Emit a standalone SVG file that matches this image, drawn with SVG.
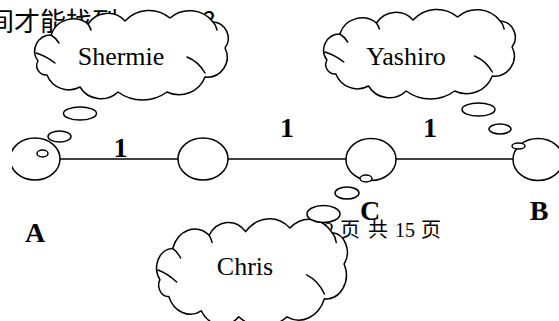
<svg xmlns="http://www.w3.org/2000/svg" xmlns:xlink="http://www.w3.org/1999/xlink" width="559" height="321" viewBox="0 0 559 321">
<style>
.ln{stroke:#000;stroke-width:1.5;fill:none}
.nd{stroke:#000;stroke-width:1.5;fill:#fff}
.cl{stroke:#000;stroke-width:1.5;fill:#fff;stroke-linejoin:round}
.ci{stroke:#000;stroke-width:1.5;fill:none;stroke-linecap:round}
.ct{font-family:"Liberation Serif","Times New Roman",serif;font-size:26px;fill:#000;text-anchor:middle}
.lb{font-family:"Liberation Serif","Times New Roman",serif;font-size:28px;font-weight:bold;fill:#000;text-anchor:middle}
.pg{font-family:"Liberation Serif","Noto Sans CJK SC",serif;font-size:20px;fill:#000}
.tp{font-family:"Noto Sans CJK SC","Liberation Sans",sans-serif;font-size:26px;fill:#000}
</style>
<defs>
<g id="cloud">
<path class="cl" vector-effect="non-scaling-stroke" d="M18,22 A23.6,23.6 0 0 1 55,11 A23.5,23.5 0 0 1 92,8 A32.6,32.6 0 0 1 137,5 A30,30 0 0 1 180,9 A16.3,16.3 0 0 1 192,35 A20,20 0 0 1 172,64 A27.8,27.8 0 0 1 134,79 A41.5,41.5 0 0 1 85,79 A24.6,24.6 0 0 1 47,74 A23.5,23.5 0 0 1 14,62 A9.4,9.4 0 0 1 5,48 A16.2,16.2 0 0 1 18,22 Z"/>
<path class="ci" vector-effect="non-scaling-stroke" d="M3,40 Q13,43 22,50 M154,44 Q166,49 172,60 M18,22 Q23,25 26,30 M55,11 Q57,14 58,17 M180,9 Q183,12 184,17"/>
</g>
<clipPath id="clipA"><rect x="12" y="130" width="60" height="60"/></clipPath>
</defs>
<rect x="0" y="0" width="559" height="321" fill="#fff"/>
<g id="page-text">
<text class="tp" x="-12" y="31">间才能找到</text>
<text class="tp" x="203" y="31" font-family="Liberation Sans,sans-serif">?</text>
<text class="pg" y="237"><tspan x="299">第</tspan> <tspan x="324">2</tspan> <tspan x="340">页</tspan> <tspan x="368">共</tspan> <tspan x="395">15</tspan> <tspan x="421">页</tspan></text>
</g>
<g id="connectors">
<line class="ln" x1="60" y1="159" x2="178" y2="159"/>
<line class="ln" x1="228" y1="159" x2="346" y2="159"/>
<line class="ln" x1="396" y1="159" x2="513" y2="159"/>
<text class="lb" x="120.5" y="157">1</text>
<text class="lb" x="287" y="137">1</text>
<text class="lb" x="430" y="137">1</text>
</g>
<g id="node-A">
<ellipse class="nd" cx="35" cy="159" rx="25" ry="21" clip-path="url(#clipA)"/>
<ellipse class="nd" cx="42.5" cy="153.5" rx="5.5" ry="3.5"/>
<text class="lb" x="35" y="242">A</text>
</g>
<g id="node-mid">
<ellipse class="nd" cx="203" cy="159" rx="25" ry="21"/>
</g>
<g id="node-C">
<ellipse class="nd" cx="371" cy="159.5" rx="25" ry="21"/>
<ellipse class="nd" cx="366" cy="178.5" rx="6" ry="3.5"/>
<text class="lb" x="370" y="220">C</text>
</g>
<g id="node-B">
<ellipse class="nd" cx="538" cy="159.5" rx="25" ry="21"/>
<ellipse class="nd" cx="518.5" cy="146" rx="6.5" ry="3"/>
<text class="lb" x="539" y="220">B</text>
</g>
<g id="bubbles">
<ellipse class="nd" cx="59.5" cy="136.5" rx="11.5" ry="5.5"/>
<ellipse class="nd" cx="80" cy="113.5" rx="16.5" ry="6.5"/>
<ellipse class="nd" cx="500" cy="129" rx="11" ry="5"/>
<ellipse class="nd" cx="478.5" cy="109.5" rx="16.5" ry="6.5"/>
<ellipse class="nd" cx="347" cy="193" rx="12" ry="6"/>
</g>
<g id="cloud-Shermie">
<use xlink:href="#cloud" transform="translate(33,13)"/>
<text class="ct" x="121" y="65">Shermie</text>
</g>
<g id="cloud-Yashiro">
<use xlink:href="#cloud" transform="translate(322,12) scale(0.99,1)"/>
<text class="ct" x="406" y="65">Yashiro</text>
</g>
<g id="cloud-Chris">
<use xlink:href="#cloud" transform="translate(155,222) scale(0.985,1.2)"/>
<text class="ct" x="245" y="275">Chris</text>
<ellipse class="nd" cx="323.5" cy="214" rx="16.5" ry="8.5"/>
</g>
</svg>
